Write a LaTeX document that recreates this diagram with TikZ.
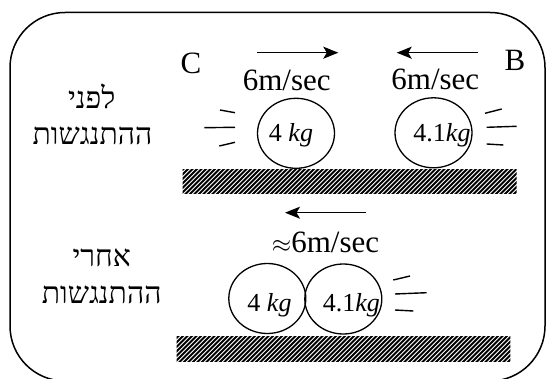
\documentclass[tikz,border=0pt]{standalone}
\usepackage{fontspec}
\setmainfont{Liberation Serif}
\newfontfamily\hebfont[Script=Hebrew]{Liberation Serif}
\TeXXeTstate=1
\usetikzlibrary{arrows.meta,shapes.geometric}
\begin{document}
\begin{tikzpicture}[x=1pt,y=-1pt,
  ball/.style={ellipse,draw,line width=1.3pt,minimum width=77pt,minimum height=70pt,inner sep=0},
  vel/.style={line width=1.5pt,-{Stealth[length=15pt,width=12pt,inset=3.5pt]}},
  motion/.style={line width=1.4pt},
  lbl/.style={font=\fontsize{31}{34}\selectfont,inner sep=0,anchor=base},
  kgl/.style={font=\fontsize{26}{28}\selectfont,inner sep=0,anchor=base},
  heb/.style={font=\fontsize{30}{32}\selectfont\hebfont,inner sep=0,anchor=base},
  hatchline/.style={line width=2pt},
]
\useasboundingbox (0,0) rectangle (546,379);
\begin{scope}
  \clip (0,0) rectangle (546,379);
  \draw[line width=1.5pt,rounded corners=55pt] (10,12.5) rectangle (545,381);
\end{scope}

% ground (before)
\begin{scope}
  \clip (182.7,169.3) rectangle (516.7,194);
  \foreach \i in {0,...,82} {\draw[hatchline] ({152+\i*4.5},196) -- ++(30,-30);}
\end{scope}
% ground (after)
\begin{scope}
  \clip (176.7,336.7) rectangle (510.3,361.7);
  \foreach \i in {0,...,82} {\draw[hatchline] ({146+\i*4.5},364) -- ++(30,-30);}
\end{scope}

% balls before
\node[ball] (b1) at (296,133.3) {};
\node[ball] (b2) at (433.5,132.8) {};
\node[kgl] (t1) at (291,141.7) {4 \textit{kg}};
\node[kgl] (t2) at (442,142) {4.1\textit{kg}};
% balls after
\node[ball] (b3) at (267.3,298.5) {};
\node[ball] (b4) at (343.3,299) {};
\node[kgl] (t3) at (269.5,311.7) {4 \textit{kg}};
\node[kgl] (t4) at (351.3,311.7) {4.1\textit{kg}};

% labels
\node[lbl] (C) at (191,73.3) {C};
\node[lbl] (B) at (515,70.5) {B};
\node[lbl] (v1) at (286.7,91) {6m/sec};
\node[lbl] (v2) at (435.3,89.3) {6m/sec};
\node[lbl] (v3) at (325.5,252.7) {$\approx$6m/sec};

% velocity arrows
\coordinate (a1s) at (257.3,52.7); \coordinate (a1e) at (338.3,52.7);
\coordinate (a2s) at (478.3,52.7); \coordinate (a2e) at (396.7,52.7);
\coordinate (a3s) at (366,212.7); \coordinate (a3e) at (285,212.7);
\draw[vel] (a1s) -- (a1e);
\draw[vel] (a2s) -- (a2e);
\draw[vel] (a3s) -- (a3e);

% motion lines
\draw[motion] (220,110) -- (235,112.7);
\draw[motion] (204.3,127.7) -- (235,127.3);
\draw[motion] (219.3,146) -- (235,142.3);
\draw[motion] (485,113.3) -- (501.7,109);
\draw[motion] (486.7,127.3) -- (516.7,126.3);
\draw[motion] (486.7,144) -- (503.3,145);
\draw[motion] (393.3,280) -- (410,276);
\draw[motion] (395,294) -- (426.7,292.7);
\draw[motion] (395,310) -- (413.3,311);

% hebrew labels
\node[heb] (h1) at (91.7,108.3) {\beginR לפני\endR};
\node[heb] (h2) at (92.5,145) {\beginR ההתנגשות\endR};
\node[heb] (h3) at (101.7,266.7) {\beginR אחרי\endR};
\node[heb] (h4) at (101.7,303.3) {\beginR ההתנגשות\endR};
\end{tikzpicture}
\end{document}
